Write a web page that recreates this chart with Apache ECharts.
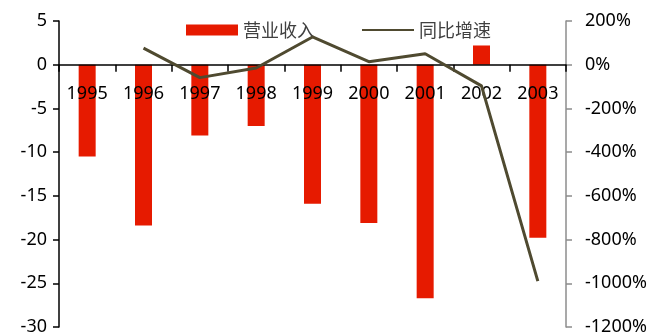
<!DOCTYPE html>
<html>
<head>
<meta charset="utf-8">
<style>
  html, body { margin: 0; padding: 0; background: #fff; }
  #chart { width: 652px; height: 335px; }
</style>
<script src="https://cdn.jsdelivr.net/npm/echarts@6/dist/echarts.min.js"></script>
</head>
<body>
<div id="chart"></div>
<script>
// 年份
var years = ['1995', '1996', '1997', '1998', '1999', '2000', '2001', '2002', '2003'];
// 营业收入（左轴）
var revenue = [-10.5, -18.4, -8.1, -7.0, -15.9, -18.1, -26.7, 2.2, -19.8];
// 同比增速（右轴，%）
var growth = [null, 76, -59, -15, 127, 14, 50, -97, -990];

var chart = echarts.init(document.getElementById('chart'));
var font = '"Noto Sans", "Noto Sans CJK SC", sans-serif';

// 绘图区
var gridTop = 21, gridBottom = 8;
var gridH = 335 - gridTop - gridBottom;
var leftMin = -30, leftMax = 5;
// 横轴放在左轴零点处（含刻度标签）
var zeroOffset = -gridH * (0 - leftMin) / (leftMax - leftMin);

chart.setOption({
  animation: false,
  textStyle: { fontFamily: font },
  grid: { left: 59, right: 86, top: gridTop, bottom: gridBottom, containLabel: false, outerBoundsMode: 'none' },
  legend: {
    left: 181,
    top: 16,
    itemWidth: 52,
    itemHeight: 11,
    itemGap: 46,
    textStyle: { fontSize: 18, color: '#404040', fontFamily: '"Noto Sans CJK SC", sans-serif' },
    data: [
      { name: '营业收入', icon: 'rect' },
      { name: '同比增速', itemStyle: { opacity: 0 } }
    ]
  },
  xAxis: {
    type: 'category',
    data: years,
    position: 'bottom',
    offset: zeroOffset,
    z: 10,
    axisLine: { onZero: false, lineStyle: { color: '#000', width: 1.5 } },
    axisTick: { show: true, inside: false, length: 7, lineStyle: { color: '#000', width: 1.5 } },
    axisLabel: { fontSize: 18, color: '#000', margin: 20, interval: 0 },
    splitLine: { show: false }
  },
  yAxis: [
    {
      type: 'value',
      min: leftMin,
      max: leftMax,
      interval: 5,
      axisLine: { show: true, lineStyle: { color: '#000', width: 1.5 } },
      axisTick: { show: true, length: 6, lineStyle: { color: '#000', width: 1.5 } },
      axisLabel: { fontSize: 18, color: '#000', margin: 12 },
      splitLine: { show: false }
    },
    {
      type: 'value',
      min: -1200,
      max: 200,
      interval: 200,
      position: 'right',
      axisLine: { show: true, lineStyle: { color: '#8c8c8c', width: 1.5 } },
      axisTick: { show: true, length: 6, lineStyle: { color: '#8c8c8c', width: 1.5 } },
      axisLabel: { fontSize: 18, color: '#000', margin: 19, formatter: function (v) { return v + '%'; } },
      splitLine: { show: false }
    }
  ],
  series: [
    {
      name: '营业收入',
      type: 'bar',
      data: revenue,
      barWidth: 17,
      yAxisIndex: 0,
      itemStyle: { color: '#E61A00' }
    },
    {
      name: '同比增速',
      type: 'line',
      data: growth,
      yAxisIndex: 1,
      z: 12,
      showSymbol: false,
      symbol: 'none',
      lineStyle: { color: '#4F4A30', width: 3 },
      itemStyle: { color: '#4F4A30' }
    }
  ]
});
</script>
</body>
</html>
